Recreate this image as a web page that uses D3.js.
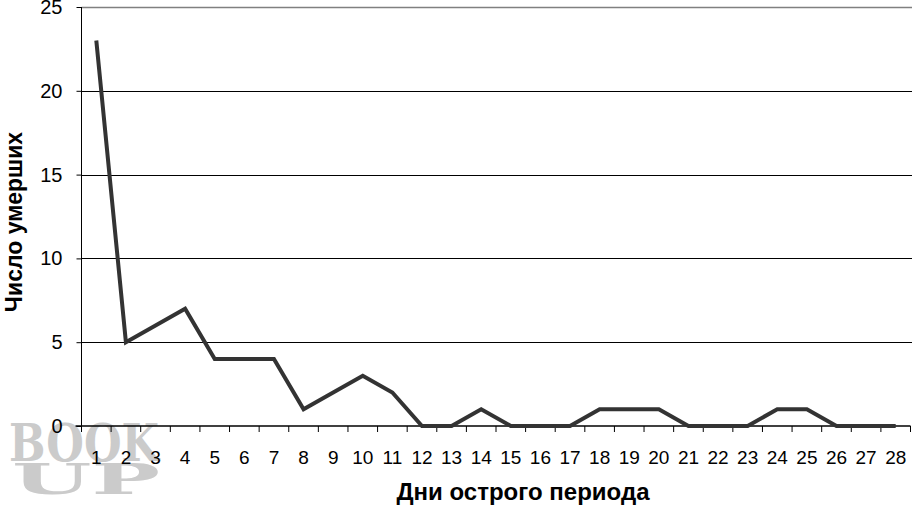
<!DOCTYPE html>
<html><head><meta charset="utf-8">
<script src="https://cdn.jsdelivr.net/npm/d3@7"></script>
<style>body{margin:0;background:#fff}svg{display:block;font-family:Arial,"Liberation Sans",sans-serif}</style>
</head><body>
<svg id="c" width="912" height="505"></svg>
<script>
const days = d3.range(1, 29).map(String);
const deaths = [23,5,6,7,4,4,4,1,2,3,2,0,0,1,0,0,0,1,1,1,0,0,0,1,1,0,0,0];
const yTicks = [0,5,10,15,20,25];
const xTitle = "Дни острого периода";
const yTitle = "Число умерших";

const svg = d3.select("#c");
const L = 81.5, R = 910.5, T = 7, B = 426;
const x = d3.scaleBand().domain(days).range([L, R]);
const y = d3.scaleLinear().domain([0, 25]).range([B, T]);

// watermark
const wm = svg.append("g").attr("fill","#cbcbcb").attr("font-family","'DejaVu Serif',serif").attr("font-weight","bold");
wm.append("text").attr("x",9).attr("y",461).attr("font-size",52).attr("textLength",150).attr("lengthAdjust","spacingAndGlyphs").text("BOOK");
wm.append("text").attr("x",12).attr("y",494).attr("font-size",42).attr("textLength",148).attr("lengthAdjust","spacingAndGlyphs").text("UP");

// gridlines
svg.append("g").selectAll("line").data(yTicks.filter(d=>d>0)).join("line")
  .attr("x1",L).attr("x2",912).attr("y1",d=>Math.round(y(d))+0.5).attr("y2",d=>Math.round(y(d))+0.5)
  .attr("stroke",d=>d===25?"#808080":"#000").attr("stroke-width",d=>d===25?1.5:1);

// y axis
const ya = svg.append("g").attr("transform",`translate(${L},0)`)
  .call(d3.axisLeft(y).tickValues(yTicks).tickSize(5).tickPadding(14));
ya.select(".domain").attr("stroke","#000").attr("d",`M0,${T}V${B}`);
ya.selectAll("text").attr("font-size",20).attr("font-family","Arial,'Liberation Sans',sans-serif").attr("fill","#000");

// x axis
const xa = svg.append("g").attr("transform",`translate(0,${B})`)
  .call(d3.axisBottom(x).tickSize(0).tickPadding(25));
xa.select(".domain").attr("stroke","#000").attr("stroke-width",1.5).attr("d",`M${L-6},0H${R}`);
xa.selectAll("text").attr("font-size",19).attr("font-family","Arial,'Liberation Sans',sans-serif").attr("fill","#000");
svg.append("g").selectAll("line").data(d3.range(days.length+1)).join("line")
  .attr("x1",i=>L+i*x.step()).attr("x2",i=>L+i*x.step()).attr("y1",B).attr("y2",B+6).attr("stroke","#000");

// line
svg.append("path").datum(deaths)
  .attr("fill","none").attr("stroke","#333").attr("stroke-width",4).attr("stroke-linejoin","miter")
  .attr("d", d3.line().x((d,i)=>x(days[i])+x.bandwidth()/2).y(d=>y(d)));

// titles
svg.append("text").attr("x",523).attr("y",500).attr("text-anchor","middle")
  .attr("font-size",24).attr("font-weight","bold").text(xTitle);
svg.append("text").attr("transform","translate(22,222) rotate(-90)").attr("text-anchor","middle")
  .attr("font-size",23).attr("font-weight","bold").text(yTitle);
</script>
</body></html>
